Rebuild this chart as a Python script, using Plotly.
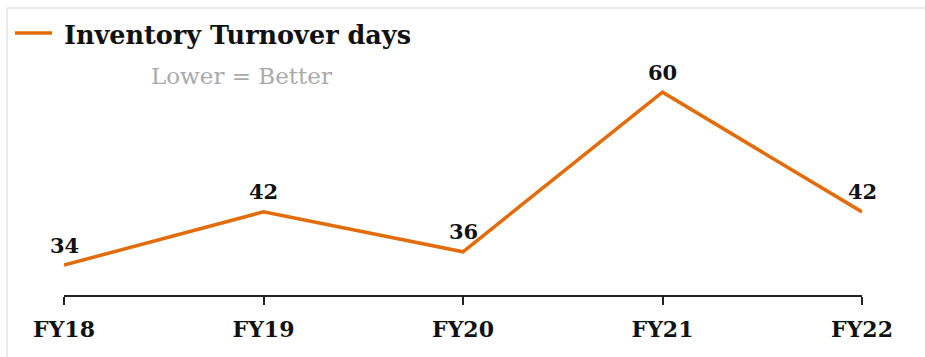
import plotly.graph_objects as go

categories = ["FY18", "FY19", "FY20", "FY21", "FY22"]
turnover_days = [34, 42, 36, 60, 42]
series_name = "Inventory Turnover days"
note_text = "Lower = Better"

W, H = 925, 357
L, R, T, B = 64, 63, 59, 62
pw, ph = W - L - R, H - T - B
ORANGE = "#E36C0A"

def px_x(x):
    return (x - L) / pw

def px_y(y):
    return (H - B - y) / ph

fig = go.Figure()
fig.add_trace(go.Scatter(
    x=categories, y=turnover_days, mode="lines", name=series_name,
    line=dict(color=ORANGE, width=3.5), showlegend=False,
))

label_annotations = [
    dict(text=str(v), x=c, y=v, xref="x", yref="y", yshift=20,
         xanchor="center", yanchor="middle", showarrow=False,
         font=dict(family="DejaVu Serif", size=21, color="#111111", weight="bold"))
    for c, v in zip(categories, turnover_days)
]

fig.update_layout(
    width=W, height=H,
    margin=dict(l=L, r=R, t=T, b=B, autoexpand=False),
    paper_bgcolor="white", plot_bgcolor="white",
    showlegend=False,
    xaxis=dict(type="category", range=[0, 4], showgrid=False, zeroline=False,
               showline=True, linecolor="#222222", linewidth=1.5,
               ticks="outside", ticklen=8, tickcolor="#222222", tickwidth=1.5,
               tickfont=dict(family="DejaVu Serif", size=22, color="#111111", weight="bold"),
               ticklabelstandoff=6),
    yaxis=dict(range=[29.5, 65], visible=False, showgrid=False, zeroline=False),
    annotations=label_annotations + [
        dict(text=series_name, xref="paper", yref="paper",
             x=px_x(62), y=px_y(35), xanchor="left", yanchor="middle",
             showarrow=False,
             font=dict(family="DejaVu Serif", size=25.5, color="#111111", weight="bold")),
        dict(text=note_text, xref="paper", yref="paper",
             x=px_x(149), y=px_y(76), xanchor="left", yanchor="middle",
             showarrow=False,
             font=dict(family="DejaVu Serif", size=23, color="#aaaaaa")),
    ],
    shapes=[
        dict(type="line", xref="paper", yref="paper", x0=px_x(15), x1=px_x(52),
             y0=px_y(33), y1=px_y(33), line=dict(color=ORANGE, width=3.5)),
        dict(type="line", xref="paper", yref="paper", x0=px_x(7), x1=px_x(7),
             y0=px_y(8), y1=px_y(357), line=dict(color="#e3e3e3", width=1.5)),
        dict(type="line", xref="paper", yref="paper", x0=px_x(7), x1=px_x(925),
             y0=px_y(8), y1=px_y(8), line=dict(color="#e3e3e3", width=1.5)),
    ],
)

fig.write_html("out.html")
